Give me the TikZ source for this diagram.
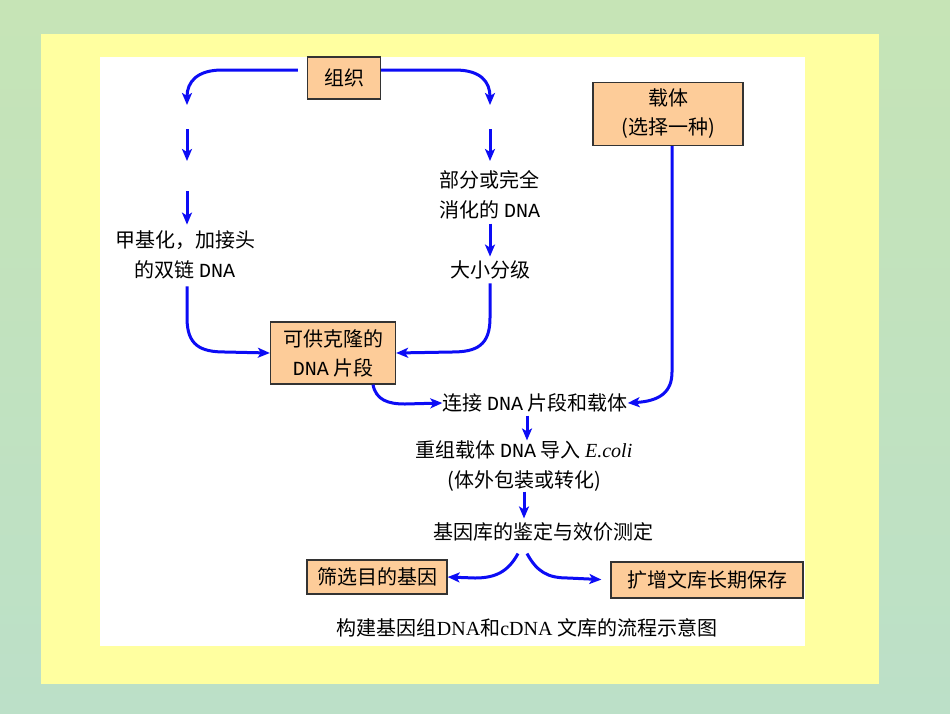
\documentclass[tikz,border=0pt]{standalone}
\usepackage{fontspec}
\setmainfont{Noto Sans CJK SC}
\newfontfamily\dnafont{Liberation Mono}
\newfontfamily\capfont{Liberation Serif}
\usetikzlibrary{arrows.meta}
\definecolor{bggreen}{RGB}{198,228,182}
\definecolor{bgblue}{RGB}{188,224,200}
\definecolor{frameyellow}{RGB}{255,255,160}
\definecolor{boxpeach}{RGB}{253,204,153}
\definecolor{flowblue}{RGB}{12,12,245}
\newcommand{\dna}{{\dnafont DNA}}
\tikzset{
	flowbox/.style={rectangle,draw=black!80,line width=1.3pt,fill=boxpeach,inner sep=0pt,align=center,font=\fontsize{20}{29}\selectfont},
	steptext/.style={rectangle,inner sep=0pt,align=center,font=\fontsize{20}{30}\selectfont},
	blueflow/.style={draw=flowblue,line width=3pt,-{Stealth[length=12pt,width=10pt,inset=3pt]}}
}
\begin{document}
\begin{tikzpicture}[x=1pt,y=-1pt]
	\useasboundingbox (0,0) rectangle (950,713);
	\shade[top color=bggreen,bottom color=bgblue] (0,0) rectangle (950,713);
	\fill[frameyellow] (41,34) rectangle (879,684);
	\fill[white] (100,57) rectangle (805,646);
	\node[flowbox,minimum width=73pt,minimum height=42pt] (tissue) at (344,78) {组织};
	\node[flowbox,minimum width=150pt,minimum height=63pt] (vector) at (668,114) {载体\\(选择一种)};
	\node[flowbox,minimum width=125pt,minimum height=62pt] (clonefrag) at (333,353) {可供克隆的\\\dna\ 片段};
	\node[flowbox,minimum width=140pt,minimum height=34pt] (screen) at (377,577) {筛选目的基因};
	\node[flowbox,minimum width=192pt,minimum height=36pt] (amplify) at (707,580) {扩增文库长期保存};
	\node[steptext] (methyl) at (185,255) {甲基化，加接头\\的双链 \dna};
	\node[steptext,align=left] (digest) at (490,195) {部分或完全\\消化的 \dna};
	\node[steptext] (sizesel) at (490,270) {大小分级};
	\node[steptext] (ligate) at (535,403) {连接 \dna\ 片段和载体};
	\node[steptext] (transform) at (524,466) {重组载体 \dna\ 导入 {\capfont\itshape E.coli}\\(体外包装或转化)};
	\node[steptext] (assay) at (543,532) {基因库的鉴定与效价测定};
	\node[steptext] (caption) at (527,628) {构建基因组{\capfont DNA}和{\capfont cDNA} 文库的流程示意图};
	\coordinate (l1) at (187,105);
	\coordinate (l2) at (187,129);
	\coordinate (l3) at (187,161);
	\coordinate (l4) at (187,191);
	\coordinate (r1) at (490,105);
	\coordinate (r2) at (490,129);
	\coordinate (r3) at (490,161);
	\draw[blueflow] ([xshift=-9pt,yshift=8pt]tissue.west) -- (222,70) .. controls (197,70) and (187,82) .. (l1);
	\draw[blueflow] (l2) -- (l3);
	\draw[blueflow,shorten >=6pt] (l4) -- (l4 |- methyl.north);
	\draw[blueflow,shorten <=7pt] (l4 |- methyl.south) -- (187,318) .. controls (187,345) and (200,352) .. (225,352) -- (clonefrag.west);
	\draw[blueflow] ([yshift=8pt]tissue.east) -- (455,70) .. controls (481,70) and (490,82) .. (r1);
	\draw[blueflow] (r2) -- (r3);
	\draw[blueflow,shorten <=4pt,shorten >=4pt] (r1 |- digest.south) -- (r1 |- sizesel.north);
	\draw[blueflow,shorten <=4pt] (r1 |- sizesel.south) -- (490,318) .. controls (490,345) and (477,352) .. (452,352) -- (clonefrag.east);
	\draw[blueflow] ([xshift=40pt]clonefrag.south) .. controls (376,400) and (388,404) .. (405,404) -- (ligate.west);
	\draw[blueflow] ([xshift=4pt]vector.south) -- (672,372) .. controls (672,392) and (660,401) .. (ligate.east);
	\draw[blueflow,shorten <=3pt] ([xshift=-8pt]ligate.south) -- ([xshift=3pt]transform.north);
	\draw[blueflow,shorten >=4pt] (transform.south) -- (transform.south |- assay.north);
	\draw[blueflow] ([xshift=-25pt,yshift=-12pt]assay.south) .. controls (508,572) and (495,578) .. (475,578) -- (screen.east);
	\draw[blueflow,shorten >=9pt] ([xshift=-16pt,yshift=-12pt]assay.south) .. controls (537,572) and (548,578) .. (568,578) -- (amplify.west);
\end{tikzpicture}
\end{document}
